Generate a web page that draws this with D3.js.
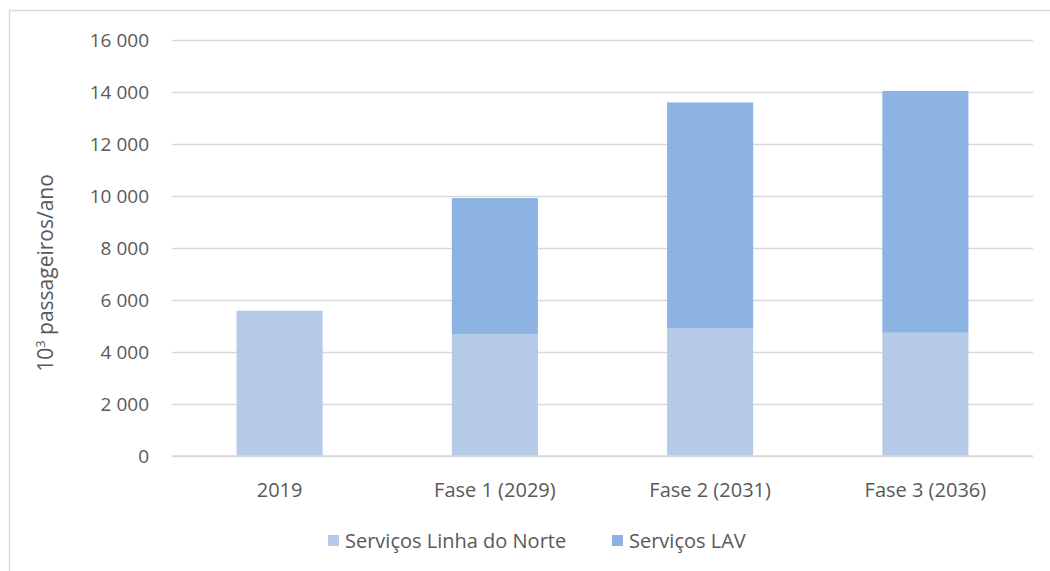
<!DOCTYPE html>
<html>
<head>
<meta charset="utf-8">
<script src="https://cdn.jsdelivr.net/npm/d3@7"></script>
<style>
  body { margin: 0; background: #fff; }
  svg text { font-family: "Open Sans", "Liberation Sans", sans-serif; fill: #595959; }
</style>
</head>
<body>
<div id="chart"></div>
<script>
// dados
var categorias = ["2019", "Fase 1 (2029)", "Fase 2 (2031)", "Fase 3 (2036)"];
var linhaNorte = [5590, 4690, 4920, 4740];
var lav = [0, 5230, 8680, 9300];
var series = ["Serviços Linha do Norte", "Serviços LAV"];
var yTicks = [0, 2000, 4000, 6000, 8000, 10000, 12000, 14000, 16000];

var width = 1050, height = 571;
var mLeft = 172, mRight = 1033, mTop = 40, mBottom = 456;

var cores = ["#b5cae6", "#8db3e2"];

var svg = d3.select("#chart").append("svg")
  .attr("width", width)
  .attr("height", height);

// moldura
svg.append("rect")
  .attr("x", 9.5).attr("y", 10.5)
  .attr("width", 1100).attr("height", 700)
  .attr("fill", "none")
  .attr("stroke", "#d9d9d9")
  .attr("stroke-width", 1.5);

var x = d3.scaleBand().domain(categorias).range([mLeft, mRight]);
var y = d3.scaleLinear().domain([0, 16000]).range([mBottom, mTop]);

var fmt = function(d) { return d3.format(",")(d).replace(/,/g, " "); };

// grelha + eixo y
var yAxis = d3.axisLeft(y).tickValues(yTicks).tickSize(-(mRight - mLeft)).tickPadding(23).tickFormat(fmt);
var gy = svg.append("g").attr("transform", "translate(" + mLeft + ",0)").call(yAxis);
gy.select(".domain").remove();
gy.selectAll(".tick line").attr("stroke", "#d9d9d9").attr("stroke-width", 1.5);
gy.selectAll(".tick text").style("font-size", "19px").attr("fill", "#595959");

// barras empilhadas
var dados = categorias.map(function(c, i) {
  return { cat: c, linha: linhaNorte[i], lav: lav[i] };
});
var stack = d3.stack().keys(["linha", "lav"])(dados);
var barW = x.bandwidth() * 0.4;

svg.append("g").selectAll("g")
  .data(stack)
  .enter().append("g")
  .attr("fill", function(d, i) { return cores[i]; })
  .selectAll("rect")
  .data(function(d) { return d; })
  .enter().append("rect")
  .attr("x", function(d) { return x(d.data.cat) + (x.bandwidth() - barW) / 2; })
  .attr("width", barW)
  .attr("y", function(d) { return y(d[1]); })
  .attr("height", function(d) { return y(d[0]) - y(d[1]); });

// eixo x
svg.append("line")
  .attr("x1", mLeft).attr("x2", mRight)
  .attr("y1", mBottom).attr("y2", mBottom)
  .attr("stroke", "#d9d9d9").attr("stroke-width", 1.5);

svg.append("g").selectAll("text")
  .data(categorias)
  .enter().append("text")
  .attr("x", function(d) { return x(d) + x.bandwidth() / 2; })
  .attr("y", 497)
  .attr("text-anchor", "middle")
  .style("font-size", "20px")
  .text(function(d) { return d; });

// titulo y
var yt = svg.append("text")
  .attr("transform", "translate(53,273) rotate(-90)")
  .attr("text-anchor", "middle")
  .style("font-size", "21px");
yt.append("tspan").text("10");
yt.append("tspan").attr("dy", -8).style("font-size", "13px").text("3");
yt.append("tspan").attr("dy", 8).text(" passageiros/ano");

// legenda
var legX = [328, 612];
var leg = svg.append("g").selectAll("g")
  .data(series)
  .enter().append("g")
  .attr("transform", function(d, i) { return "translate(" + legX[i] + ",535)"; });
leg.append("rect")
  .attr("width", 11).attr("height", 11)
  .attr("fill", function(d, i) { return cores[i]; });
leg.append("text")
  .attr("x", 17).attr("y", 13)
  .style("font-size", "20px")
  .text(function(d) { return d; });
</script>
</body>
</html>
